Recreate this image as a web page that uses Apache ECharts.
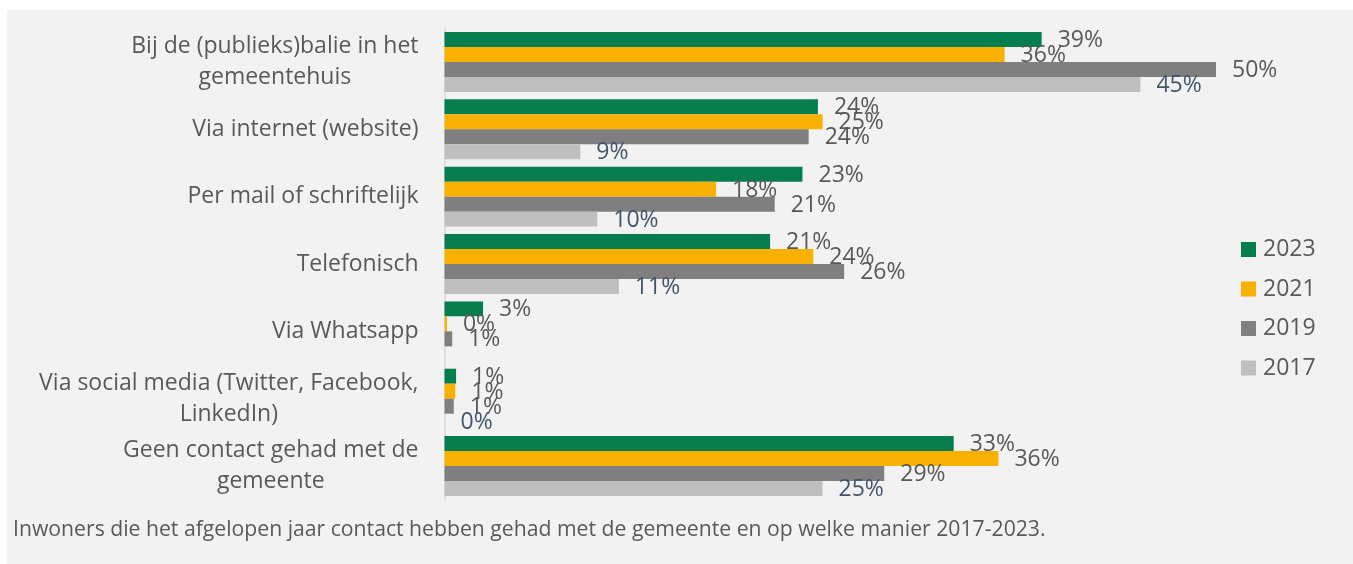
<!DOCTYPE html>
<html>
<head>
<meta charset="utf-8">
<script src="https://cdn.jsdelivr.net/npm/echarts@6/dist/echarts.min.js"></script>
<style>
  html, body { margin: 0; padding: 0; background: #fff; }
  #chart { position: absolute; left: 7px; top: 10px; width: 1346px; height: 554px; background: #f2f2f2; }
</style>
</head>
<body>
<div id="chart"></div>
<script>
// categories, top to bottom
const categories = [
  'Bij de (publieks)balie in het\ngemeentehuis',
  'Via internet (website)',
  'Per mail of schriftelijk',
  'Telefonisch',
  'Via Whatsapp',
  'Via social media (Twitter, Facebook,\nLinkedIn)',
  'Geen contact gehad met de\ngemeente',
]
const years = ['2023', '2021', '2019', '2017']

// percentages (labels are rounded)
const v2023 = [38.7, 24.2, 23.2, 21.1, 2.5, 0.75, 33.0]
const v2021 = [36.3, 24.5, 17.6, 23.9, 0.16, 0.7, 35.9]
const v2019 = [50.0, 23.6, 21.4, 25.9, 0.5, 0.6, 28.5]
const v2017 = [45.1, 8.8, 9.9, 11.3, null, 0, 24.5]

const COLORS = ['#057D4F', '#F8B100', '#7F7F7F', '#BFBFBF']
const LABEL_COLORS = ['#595959', '#595959', '#595959', '#44546A']
const FONT = '"Open Sans", sans-serif'
const TEXT = '#595959'

const caption = 'Inwoners die het afgelopen jaar contact hebben gehad met de gemeente en op welke manier 2017-2023.'

const chart = echarts.init(document.getElementById('chart'))

const seriesData = [v2023, v2021, v2019, v2017]

chart.setOption({
  backgroundColor: '#f2f2f2',
  textStyle: { fontFamily: FONT },
  title: {
    text: caption,
    left: 6,
    top: 509,
    padding: 0,
    textStyle: { fontSize: 21.2, fontWeight: 'normal', color: TEXT, fontFamily: FONT },
  },
  legend: {
    orient: 'vertical',
    left: 1234,
    top: 228,
    padding: 0,
    icon: 'rect',
    itemWidth: 15,
    itemHeight: 15,
    itemGap: 16.5,
    data: years,
    textStyle: { fontSize: 23, color: TEXT, fontFamily: FONT, padding: [0, 0, 0, 2] },
  },
  grid: { left: 437.5, top: 18.3, width: 771.5, height: 471.4 },
  xAxis: {
    type: 'value',
    min: 0,
    max: 50,
    show: false,
    splitLine: { show: false },
  },
  yAxis: {
    type: 'category',
    data: categories,
    inverse: true,
    axisLine: { show: true, lineStyle: { color: '#d9d9d9', width: 1.5 } },
    axisTick: { show: false },
    axisLabel: {
      align: 'right',
      margin: 26,
      formatter: v => v.split('\n').map(s => '{c|' + s + '}').join('\n'),
      rich: {
        c: { align: 'center', fontSize: 23, lineHeight: 31, color: TEXT, fontFamily: FONT },
      },
    },
  },
  series: years.map((y, i) => ({
    name: y,
    type: 'bar',
    data: seriesData[i],
    barGap: 0,
    barCategoryGap: '11%',
    itemStyle: { color: COLORS[i] },
    label: {
      show: true,
      position: 'right',
      distance: 16,
      offset: [0, 1],
      fontSize: 23,
      fontFamily: FONT,
      color: LABEL_COLORS[i],
      formatter: p => (p.value == null ? '' : Math.round(p.value) + '%'),
    },
  })),
})
</script>
</body>
</html>
